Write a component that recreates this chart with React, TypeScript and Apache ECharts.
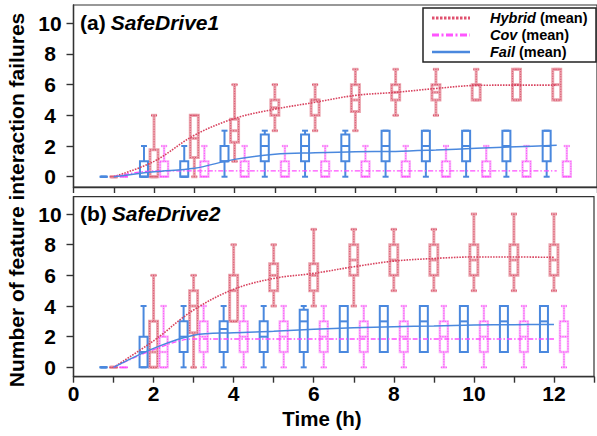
import React, { useEffect, useRef } from "react";
import * as echarts from "echarts";

const FONT = '"Liberation Sans", Arial, Helvetica, sans-serif';

const hours = [1, 2, 3, 4, 5, 6, 7, 8, 9, 10, 11, 12];
const xTickLabels = [0, 2, 4, 6, 8, 10, 12];
const yTickValues = [0, 2, 4, 6, 8, 10];
const seriesNames = ["Hybrid", "Cov", "Fail"];

// Panel (a) SafeDrive1 : [min, Q1, median, Q3, max]
const hybridBoxA = [
  [0, 0, 0, 0, 0], [0, 0, 0, 1.75, 4], [0, 1.25, 2.5, 4, 4], [1, 2.25, 3, 3.75, 6],
  [3, 4, 4.5, 5, 6], [3, 4, 5, 5, 6], [3, 4.25, 5, 6, 7], [4, 5, 5.5, 6, 7],
  [4, 5, 5.5, 6, 7], [5, 5, 6, 6, 7], [5, 5, 6, 7, 7], [5, 5, 6, 7, 7],
];
const covBoxA = [
  [0, 0, 0, 0, 0], [0, 0, 0, 1, 2], [0, 0, 0, 1, 2], [0, 0, 0, 1, 2],
  [0, 0, 0, 1, 2], [0, 0, 0, 1, 2], [0, 0, 0, 1, 2], [0, 0, 0, 1, 2],
  [0, 0, 0, 1, 2], [0, 0, 0, 1, 2], [0, 0, 0, 1, 2], [0, 0, 0, 1, 2],
];
const failBoxA = [
  [0, 0, 0, 0, 0], [0, 0, 0, 1, 2], [0, 0, 0, 1, 2], [0, 1, 1, 2, 3],
  [0, 1, 2, 2.75, 3], [0, 1, 2, 2.75, 3], [0, 1, 2, 2.75, 3], [0, 1, 2, 3, 3],
  [0, 1, 2, 3, 3], [0, 1, 2, 3, 3], [0, 1, 2, 3, 3], [0, 1, 2, 3, 3],
];
const hybridMeanA = [0, 1.0, 2.7, 3.8, 4.4, 4.85, 5.3, 5.5, 5.75, 5.95, 5.97, 5.97];
const covMeanA = [0, 0.38, 0.38, 0.38, 0.38, 0.38, 0.38, 0.38, 0.38, 0.38, 0.38, 0.38];
const failMeanA = [0, 0.33, 0.55, 1.13, 1.46, 1.56, 1.63, 1.65, 1.74, 1.85, 1.95, 2.05];

// Panel (b) SafeDrive2
const hybridBoxB = [
  [0, 0, 0, 0, 0], [0, 0, 1, 3, 6], [0, 2.25, 4, 5, 6], [3, 3, 5, 6, 8],
  [4, 5, 6, 6.75, 8], [4, 5, 6, 6.75, 9], [4, 6, 7, 8, 9], [5, 6, 7, 8, 9],
  [5, 6, 7, 8, 9], [5, 6, 7, 8, 10], [5, 6, 7, 8, 10], [5, 6, 7, 8, 10],
];
const covBoxB = [
  [0, 0, 0, 0, 0], [0, 0, 1, 2, 4], [0, 1, 2, 3, 4], [0, 1, 2, 3, 4],
  [0, 1, 2, 3, 4], [0, 1, 2, 3, 4], [0, 1, 2, 3, 4], [0, 1, 2, 3, 4],
  [0, 1, 2, 3, 4], [0, 1, 2, 3, 4], [0, 1, 2, 3, 4], [0, 1, 2, 3, 4],
];
const failBoxB = [
  [0, 0, 0, 0, 0], [0, 0, 1, 2, 4], [0, 1, 2, 3, 4], [0, 1, 2.5, 3, 4],
  [0, 1, 2, 3, 4], [0, 1, 3, 3.75, 4], [1, 1, 3, 4, 4], [1, 1, 3, 4, 4],
  [1, 1, 3, 4, 4], [1, 1, 3, 4, 4], [1, 1, 3, 4, 4], [1, 1, 3, 4, 4],
];
const hybridMeanB = [0, 1.73, 3.74, 5.09, 5.8, 6.13, 6.56, 6.93, 7.1, 7.2, 7.2, 7.17];
const covMeanB = [0, 1.15, 1.85, 1.85, 1.85, 1.85, 1.85, 1.85, 1.85, 1.85, 1.85, 1.85];
const failMeanB = [0, 1.24, 2.1, 2.26, 2.35, 2.48, 2.58, 2.65, 2.7, 2.76, 2.78, 2.8];

const OFFSET = { Fail: -0.25, Hybrid: 0, Cov: 0.25 };

const LAYERS: Record<string, any[]> = {
  Hybrid: [
    { stroke: "#eba3ad", lineWidth: 3 },
    { stroke: "#d9506b", lineWidth: 1.1, lineDash: [1, 1.5] },
  ],
  Cov: [
    { stroke: "#f9b3f9", lineWidth: 2.4 },
    { stroke: "#ff3cff", lineWidth: 1, lineDash: [1, 1.5] },
  ],
  Fail: [{ stroke: "#4a88de", lineWidth: 2 }],
};

function boxRenderer(kind: string) {
  return (params: any, api: any) => {
    const x = api.value(0);
    const v = [1, 2, 3, 4, 5].map((d) => api.value(d));
    const p = v.map((y) => api.coord([x, y]));
    const cx = p[0][0];
    const half = 4;
    const cap = 3;
    const [yMin, yQ1, yMed, yQ3, yMax] = p.map((q) => q[1]);
    const children: any[] = [];
    LAYERS[kind].forEach((st) => {
      const style = { ...st, fill: "none" };
      children.push(
        { type: "line", shape: { x1: cx, y1: yMin, x2: cx, y2: yQ1 }, style },
        { type: "line", shape: { x1: cx, y1: yQ3, x2: cx, y2: yMax }, style },
        { type: "line", shape: { x1: cx - cap, y1: yMin, x2: cx + cap, y2: yMin }, style },
        { type: "line", shape: { x1: cx - cap, y1: yMax, x2: cx + cap, y2: yMax }, style },
        { type: "rect", shape: { x: cx - half, y: yQ3, width: 2 * half, height: yQ1 - yQ3 }, style },
        { type: "line", shape: { x1: cx - half, y1: yMed, x2: cx + half, y2: yMed }, style }
      );
    });
    return { type: "group", children };
  };
}

function boxSeries(kind: string, boxes: number[][], idx: number) {
  return {
    type: "custom",
    name: kind + " box " + idx,
    xAxisIndex: idx,
    yAxisIndex: idx,
    encode: { x: 0, y: [1, 2, 3, 4, 5] },
    data: hours.map((h, i) => [h + (OFFSET as any)[kind], ...boxes[i]]),
    renderItem: boxRenderer(kind),
    z: 2,
    silent: true,
  };
}

const LINE_STYLE: Record<string, any> = {
  Hybrid: { color: "#d8425e", width: 1.6, type: [1.6, 1.2] },
  Cov: { color: "#ff4dff", width: 1.3, type: [5, 2, 1.5, 2] },
  Fail: { color: "#4a88de", width: 1.5, type: "solid" },
};

const LEGEND_LINE: Record<string, any> = {
  Hybrid: { stroke: "#e0506e", lineWidth: 3, lineDash: [2.5, 1.5] },
  Cov: { stroke: "#ff55ff", lineWidth: 3, lineDash: [7, 2.5, 2, 2.5] },
  Fail: { stroke: "#4a88de", lineWidth: 2.5 },
};

function meanSeries(kind: string, vals: number[], idx: number) {
  return {
    type: "line",
    name: kind,
    xAxisIndex: idx,
    yAxisIndex: idx,
    data: hours.map((h, i) => [h, vals[i]]),
    smooth: 0.35,
    symbol: "none",
    showSymbol: false,
    color: LINE_STYLE[kind].color,
    lineStyle: LINE_STYLE[kind],
    z: 3,
    silent: true,
  };
}

const axisLineStyle = { color: "#333", width: 1.4 };

function xAxis(idx: number, labels: boolean) {
  return {
    gridIndex: idx,
    type: "value",
    min: 0,
    max: 13,
    interval: 1,
    axisLine: { show: true, onZero: false, lineStyle: axisLineStyle },
    axisTick: { show: true, inside: false, length: 6, lineStyle: axisLineStyle },
    splitLine: { show: false },
    axisLabel: {
      show: labels,
      margin: 6,
      fontSize: 21,
      fontWeight: "bold",
      fontFamily: FONT,
      color: "#000",
      formatter: (v: number) => (xTickLabels.includes(v) ? String(v) : ""),
    },
  };
}

function yAxis(idx: number, min: number, max: number) {
  return {
    gridIndex: idx,
    type: "value",
    min,
    max,
    axisLine: { show: true, onZero: false, lineStyle: axisLineStyle },
    axisTick: { show: true, length: 7, lineStyle: axisLineStyle, customValues: yTickValues },
    splitLine: { show: false },
    axisLabel: {
      customValues: yTickValues,
      align: "center",
      margin: 23.5,
      fontSize: 21,
      fontWeight: "bold",
      fontFamily: FONT,
      color: "#000",
    },
  };
}

function legendGraphic() {
  const left = 423, top = 8, rowH = 17, firstRow = 18;
  const children: any[] = [
    {
      type: "rect",
      shape: { x: left, y: top, width: 173, height: 54 },
      style: { fill: "#fff", stroke: "#222", lineWidth: 1.5 },
    },
  ];
  seriesNames.forEach((name, i) => {
    const y = firstRow + i * rowH;
    children.push({
      type: "line",
      shape: { x1: 432, y1: y, x2: 470, y2: y },
      style: { ...LEGEND_LINE[name], fill: "none" },
    });
    children.push({
      type: "text",
      x: 490,
      y,
      style: {
        text: `{i|${name}} (mean)`,
        fontSize: 14.5,
        fontWeight: "bold",
        fontFamily: FONT,
        fill: "#000",
        textVerticalAlign: "middle",
        rich: {
          i: { fontSize: 14.5, fontWeight: "bold", fontStyle: "italic", fontFamily: FONT, fill: "#000" },
        },
      },
    });
  });
  return { type: "group", z: 100, children };
}

export default function App() {
  const ref = useRef<HTMLDivElement>(null);
  useEffect(() => {
    if (!ref.current) return;
    const chart = echarts.init(ref.current, undefined, { renderer: "svg" });
    const panelTitle = (tag: string, name: string, top: number) => ({
      text: `{n|${tag}} {i|${name}}`,
      left: 80,
      top,
      padding: 0,
      textStyle: {
        rich: {
          n: { fontSize: 21, fontWeight: "bold", fontFamily: FONT, color: "#000" },
          i: { fontSize: 21, fontWeight: "bold", fontStyle: "italic", fontFamily: FONT, color: "#000" },
        },
      },
    });
    const option: any = {
      animation: false,
      backgroundColor: "#fff",
      title: [panelTitle("(a)", "SafeDrive1", 12), panelTitle("(b)", "SafeDrive2", 203)],
      grid: [
        { left: 73.5, top: 5, width: 533, height: 182, show: true, borderColor: "#333", borderWidth: 1.2 },
        { left: 73.5, top: 196.7, width: 533, height: 180, show: true, borderColor: "#333", borderWidth: 1.2 },
      ],
      xAxis: [xAxis(0, false), xAxis(1, true)],
      yAxis: [yAxis(0, -0.67, 11.19), yAxis(1, -0.61, 11.13)],
      graphic: [
        {
          type: "text",
          x: 16,
          y: 200,
          rotation: Math.PI / 2,
          style: {
            text: "Number of feature interaction failures",
            fontSize: 21,
            fontWeight: "bold",
            fontFamily: FONT,
            fill: "#000",
            textAlign: "center",
            textVerticalAlign: "middle",
          },
        },
        {
          type: "text",
          x: 322,
          y: 418,
          style: {
            text: "Time (h)",
            fontSize: 20.5,
            fontWeight: "bold",
            fontFamily: FONT,
            fill: "#000",
            textAlign: "center",
            textVerticalAlign: "middle",
          },
        },
        legendGraphic(),
      ],
      series: [
        boxSeries("Hybrid", hybridBoxA, 0),
        boxSeries("Cov", covBoxA, 0),
        boxSeries("Fail", failBoxA, 0),
        boxSeries("Hybrid", hybridBoxB, 1),
        boxSeries("Cov", covBoxB, 1),
        boxSeries("Fail", failBoxB, 1),
        meanSeries("Hybrid", hybridMeanA, 0),
        meanSeries("Cov", covMeanA, 0),
        meanSeries("Fail", failMeanA, 0),
        meanSeries("Hybrid", hybridMeanB, 1),
        meanSeries("Cov", covMeanB, 1),
        meanSeries("Fail", failMeanB, 1),
      ],
    };
    chart.setOption(option);
    return () => chart.dispose();
  }, []);
  return (
    <div
      ref={ref}
      style={{ position: "absolute", left: 0, top: 0, width: 597, height: 436, background: "#fff" }}
    />
  );
}
